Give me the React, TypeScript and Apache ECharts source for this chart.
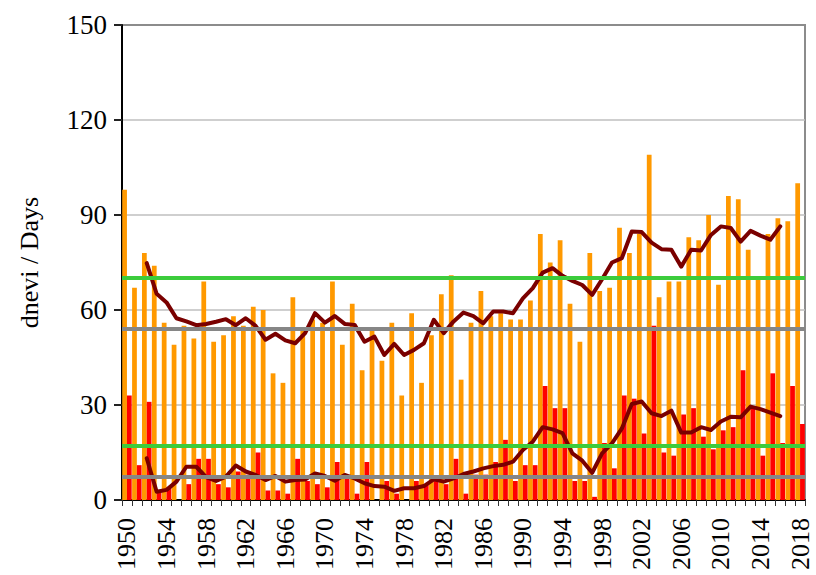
import React, { useEffect, useRef } from "react";
import * as echarts from "echarts";

const years: string[] = [];
for (let y = 1950; y <= 2018; y++) years.push(String(y));

// Orange bars: days (e.g. summer days)
const orangeDays = [
  98, 67, 78, 74, 56, 49, 55, 51, 69, 50,
  52, 58, 55, 61, 60, 40, 37, 64, 54, 57,
  56, 69, 49, 62, 41, 54, 44, 56, 33, 59,
  37, 52, 65, 71, 38, 56, 66, 58, 59, 57,
  57, 63, 84, 75, 82, 62, 50, 78, 66, 67,
  86, 78, 84, 109, 64, 69, 69, 83, 82, 90,
  68, 96, 95, 79, 70, 84, 89, 88, 100,
];

// Red bars: hot days
const redDays = [
  33, 11, 31, 3, 4, 0, 5, 13, 13, 5,
  4, 9, 8, 15, 3, 3, 2, 13, 6, 5,
  4, 12, 7, 2, 12, 0, 6, 2, 0, 6,
  5, 6, 5, 13, 2, 8, 8, 12, 19, 6,
  11, 11, 36, 29, 29, 6, 6, 1, 18, 10,
  33, 32, 21, 55, 15, 14, 27, 29, 20, 16,
  22, 23, 41, 29, 14, 40, 18, 36, 24,
];

// Smoothed curves (1952-2016)
const orangeSmooth = [
  null, null,
  74.8, 65.1, 62.4, 57.4, 56.4, 55.2, 55.6, 56.3,
  57.1, 55.2, 57.4, 55.0, 50.6, 52.5, 50.4, 49.5, 52.7, 59.0,
  56.0, 58.1, 55.6, 55.3, 50.0, 51.6, 45.8, 49.3, 45.8, 47.4,
  49.5, 56.9, 52.7, 56.4, 59.2, 58.1, 55.8, 59.5, 59.5, 59.0,
  63.7, 66.9, 71.8, 73.2, 70.8, 69.2, 67.9, 64.8, 69.7, 75.0,
  76.4, 84.8, 84.6, 81.3, 79.2, 79.0, 73.7, 79.0, 78.8, 83.7,
  86.4, 85.9, 81.6, 85.0, 83.5, 82.2, 86.4,
  null, null,
];

const redSmooth = [
  null, null,
  13.2, 2.6, 3.2, 5.8, 10.5, 10.5, 7.2, 6.0,
  7.4, 10.9, 9.0, 7.9, 6.3, 7.6, 5.8, 6.3, 6.5, 8.4,
  7.6, 6.1, 7.9, 6.8, 5.3, 4.4, 4.2, 2.9, 3.7, 3.7,
  4.4, 6.5, 5.8, 6.8, 8.2, 9.0, 10.0, 10.7, 11.1, 12.1,
  15.8, 18.4, 23.0, 22.3, 21.1, 14.7, 12.4, 8.6, 14.7, 17.9,
  22.6, 30.3, 31.1, 27.4, 26.5, 28.2, 21.3, 21.3, 23.0, 22.1,
  24.8, 26.3, 26.1, 29.5, 28.7, 27.6, 26.5,
  null, null,
];

// Reference levels
const greenLevels = [70.1, 17.1];
const grayLevels = [54.1, 7.3];

const yTicks = { min: 0, max: 150, interval: 30 };

const FONT = "'Times New Roman', 'Liberation Serif', serif";

export default function App() {
  const ref = useRef<HTMLDivElement>(null);

  useEffect(() => {
    if (!ref.current) return;
    const chart = echarts.init(ref.current, undefined, { renderer: "svg" });

    const refLine = (vals: number[], color: string) => ({
      type: "line",
      data: [],
      z: 3,
      silent: true,
      markLine: {
        silent: true,
        symbol: ["none", "none"],
        label: { show: false },
        emphasis: { disabled: true },
        lineStyle: { type: "solid", width: 4, color },
        data: vals.map((v) => ({ yAxis: v })),
      },
    });

    chart.setOption({
      animation: false,
      backgroundColor: "#fff",
      grid: {
        left: 122,
        right: 11,
        top: 25,
        bottom: 75,
        show: true,
        borderColor: "#8c8c8c",
        borderWidth: 2,
        backgroundColor: "transparent",
      },
      xAxis: {
        type: "category",
        data: years,
        boundaryGap: true,
        axisLine: { lineStyle: { color: "#000", width: 2 } },
        axisTick: {
          show: true,
          interval: 0,
          length: 6,
          lineStyle: { color: "#333", width: 1 },
        },
        axisLabel: {
          interval: 3,
          rotate: 90,
          margin: 18,
          color: "#000",
          fontFamily: FONT,
          fontSize: 26,
        },
        splitLine: { show: false },
      },
      yAxis: {
        type: "value",
        min: yTicks.min,
        max: yTicks.max,
        interval: yTicks.interval,
        name: "dnevi / Days",
        nameLocation: "middle",
        nameRotate: 90,
        nameGap: 80,
        nameTextStyle: { color: "#000", fontFamily: FONT, fontSize: 26 },
        axisLine: { show: true, lineStyle: { color: "#000", width: 2 } },
        axisTick: { show: true, length: 8, lineStyle: { color: "#222", width: 2 } },
        axisLabel: {
          margin: 15,
          color: "#000",
          fontFamily: FONT,
          fontSize: 27,
        },
        splitLine: {
          show: true,
          showMaxLine: false,
          lineStyle: { color: "#bfbfbf", width: 1.5 },
        },
      },
      series: [
        {
          type: "bar",
          data: orangeDays,
          barGap: "0%",
          barCategoryGap: "4%",
          itemStyle: { color: "#ff9900" },
          z: 2,
        },
        {
          type: "bar",
          data: redDays,
          itemStyle: { color: "#ff0000" },
          z: 2,
        },
        refLine(grayLevels, "#868686"),
        refLine(greenLevels, "#3ccc3c"),
        {
          type: "line",
          data: orangeSmooth,
          z: 4,
          symbol: "none",
          connectNulls: false,
          lineStyle: { color: "#7a0000", width: 4, join: "round", cap: "round" },
        },
        {
          type: "line",
          data: redSmooth,
          z: 4,
          symbol: "none",
          connectNulls: false,
          lineStyle: { color: "#7a0000", width: 4, join: "round", cap: "round" },
        },
      ],
    });

    return () => chart.dispose();
  }, []);

  return (
    <div
      ref={ref}
      style={{ position: "fixed", left: 0, top: 0, width: 816, height: 575 }}
    />
  );
}
